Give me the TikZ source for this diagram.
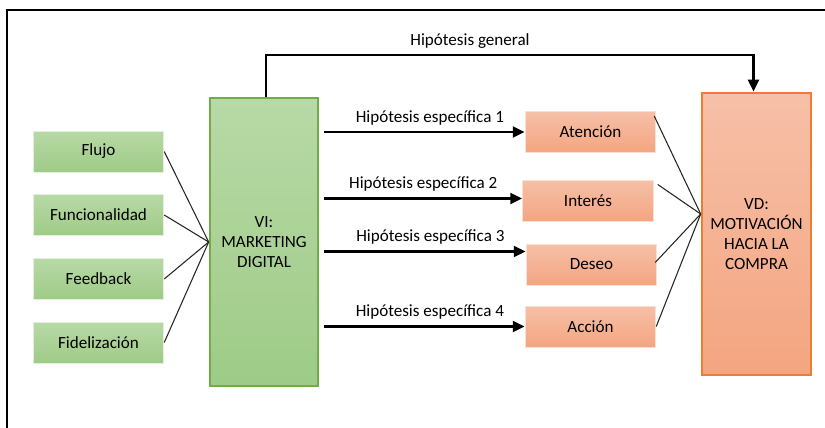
\documentclass[tikz,border=0pt]{standalone}
\usepackage{fontspec}
\setmainfont{Carlito}
\definecolor{vigreen}{RGB}{112,173,71}
\definecolor{greentop}{RGB}{184,217,166}
\definecolor{greenbot}{RGB}{158,203,135}
\definecolor{vdorange}{RGB}{237,125,49}
\definecolor{orangetop}{RGB}{246,192,168}
\definecolor{orangebot}{RGB}{244,165,128}
\usetikzlibrary{arrows.meta,positioning,calc}

\begin{document}
\begin{tikzpicture}[x=0.75pt, y=-0.75pt,
    font=\fontsize{12.8}{15}\selectfont,
    dimbox/.style={minimum width=98pt, minimum height=30.75pt, inner sep=0pt,
        top color=greentop, bottom color=greenbot, draw=greentop!40!white, line width=0.6pt},
    subbox/.style={minimum width=98pt, minimum height=30.75pt, inner sep=0pt,
        top color=orangetop, bottom color=orangebot, draw=orangetop!50!white, line width=0.6pt},
    hipo/.style={line width=2.2pt, -{Triangle[length=9pt,width=8pt]}},
    enlace/.style={line width=0.8pt, black!85}]
    \useasboundingbox (0,0) rectangle (825,428);
    \draw[line width=1.5pt] (7,428) -- (7,10) -- (825,10);

    % variable independiente y sus dimensiones
    \node[dimbox, line width=2pt, draw=vigreen, minimum width=81pt, minimum height=216pt,
        align=center] (vi) at (264,242) {VI:\\MARKETING\\DIGITAL};
    \node[dimbox] (flujo) at (98.5,151.5) {Flujo};
    \node[dimbox] (func) at (98.5,215) {Funcionalidad};
    \node[dimbox] (feed) at (98.5,279) {Feedback};
    \node[dimbox] (fide) at (98.5,342.5) {Fidelización};
    \foreach \d in {flujo,func,feed,fide}
        \draw[enlace] (\d.east) -- (vi.west);

    % variable dependiente y sus dimensiones
    \node[subbox, line width=2pt, draw=vdorange, minimum width=81.75pt, minimum height=211.5pt,
        align=center] (vd) at (756.5,234) {VD:\\MOTIVACIÓN\\HACIA LA\\COMPRA};
    \node[subbox] (aten) at (590.5,132) {Atención};
    \node[subbox] (inte) at (588,200.5) {Interés};
    \node[subbox] (dese) at (591.5,264.5) {Deseo};
    \node[subbox] (acci) at (590.5,326.5) {Acción};
    \coordinate (vdin) at ($(vd.west)+(0,-20)$);
    \draw[enlace] ($(aten.east)+(-2,-16)$) -- (vdin);
    \draw[enlace] ($(inte.east)+(4,-16)$) -- (vdin);
    \draw[enlace] ($(dese.east)+(-2,-2)$) -- (vdin);
    \draw[enlace] (acci.east) -- (vdin);

    % hipotesis especificas
    \draw[hipo] ($(vi.east |- aten.west)+(5,0)$) -- (aten.west)
        node[midway, above=1pt, xshift=4pt] (h1) {Hipótesis específica 1};
    \draw[hipo] ($(vi.east |- inte.west)+(5,-2)$) -- ($(inte.west)+(0,-2)$)
        node[midway, above=1pt] (h2) {Hipótesis específica 2};
    \draw[hipo] ($(vi.east |- dese.west)+(5,-13)$) -- ($(dese.west)+(0,-13)$)
        node[midway, above=1pt, xshift=4pt] (h3) {Hipótesis específica 3};
    \draw[hipo] ($(vi.east |- acci.west)+(5,0)$) -- (acci.west)
        node[midway, above=1pt, xshift=4pt] (h4) {Hipótesis específica 4};

    % hipotesis general
    \draw[hipo] ($(vi.north)+(2,0)$) |- (500,55) -| ($(vd.north)+(-3,0)$);
    \node (hgen) at (470,41) {Hipótesis general};
\end{tikzpicture}
\end{document}
